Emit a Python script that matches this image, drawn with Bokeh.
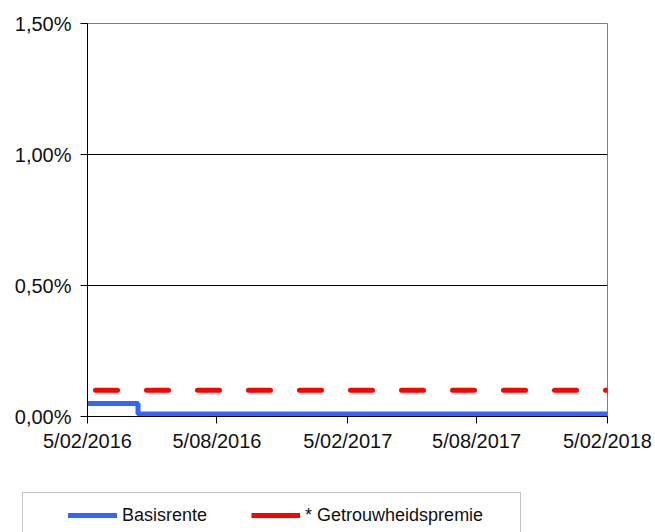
from datetime import datetime
from bokeh.plotting import figure
from bokeh.layouts import column
from bokeh.models import (Range1d, FixedTicker, CustomJSTickFormatter, Legend,
                          LegendItem, BoxAnnotation)
from bokeh.embed import file_html
from bokeh.resources import INLINE

# ---- data ----
basis_dates = ["2016-02-05", "2016-04-16", "2018-02-05"]
basis_values = [0.05, 0.01, 0.01]
premie_dates = ["2016-02-05", "2018-02-05"]
premie_values = [0.10, 0.10]
x_tick_dates = ["2016-02-05", "2016-08-05", "2017-02-05", "2017-08-05", "2018-02-05"]
y_ticks = [0.0, 0.5, 1.0, 1.5]
labels = ["Basisrente", "* Getrouwheidspremie"]

EPOCH = datetime(1970, 1, 1)
def to_dt(s):
    return datetime.strptime(s, "%Y-%m-%d")
def to_ms(s):
    return int((to_dt(s) - EPOCH).total_seconds() * 1000)

FONT = "Liberation Sans"
BLUE = "#3366FF"
RED = "#FF0000"

# ---------------- chart ----------------
p = figure(width=655, height=470, output_backend="svg", toolbar_location=None,
           x_axis_type="datetime",
           x_range=Range1d(to_dt(x_tick_dates[0]), to_dt(x_tick_dates[-1])),
           y_range=Range1d(0, 1.5),
           min_border_left=87, min_border_right=48, min_border_top=23,
           min_border_bottom=54)
p.outline_line_color = "#808080"
p.outline_line_width = 1
p.background_fill_color = "white"
p.border_fill_color = "white"

p.xaxis.ticker = FixedTicker(ticks=[to_ms(d) for d in x_tick_dates])
p.xaxis.formatter = CustomJSTickFormatter(code="""
const d = new Date(tick);
return d.getUTCDate() + '/' + String(d.getUTCMonth() + 1).padStart(2, '0') + '/' + d.getUTCFullYear();
""")
p.yaxis.ticker = FixedTicker(ticks=y_ticks)
p.yaxis.formatter = CustomJSTickFormatter(code="""
return tick.toFixed(2).replace('.', ',') + '%';
""")
for ax in (p.xaxis, p.yaxis):
    ax.axis_line_color = "black"
    ax.axis_line_width = 1
    ax.major_tick_line_color = "black"
    ax.major_tick_out = 7
    ax.major_tick_in = 0
    ax.minor_tick_line_color = None
    ax.major_label_text_font = FONT
    ax.major_label_text_font_size = "20px"
    ax.major_label_text_color = "#111111"
p.xaxis.major_label_standoff = 6
p.yaxis.major_label_standoff = 9

p.xgrid.grid_line_color = None
p.ygrid.ticker = FixedTicker(ticks=y_ticks)
p.ygrid.grid_line_color = "black"
p.ygrid.grid_line_width = 1

p.line([to_dt(d) for d in premie_dates], premie_values,
       line_color=RED, line_width=5, line_dash="22 29",
       line_dash_offset=43, line_cap="round")
r_basis = p.step([to_dt(d) for d in basis_dates], basis_values, mode="after",
                 line_color=BLUE, line_width=5)
r_basis.glyph.line_cap = "round"

# ---------------- legend strip ----------------
lg = figure(width=655, height=62, output_backend="svg", toolbar_location=None,
            x_range=Range1d(0, 655), y_range=Range1d(0, 62),
            x_axis_location=None, y_axis_location=None,
            min_border_left=0, min_border_right=0, min_border_top=0,
            min_border_bottom=0)
for fig in (p, lg):
    try:
        fig.frame_align = False
    except Exception:
        pass
lg.outline_line_color = None
lg.xgrid.visible = False
lg.ygrid.visible = False
lg.background_fill_color = "white"
lg.border_fill_color = "white"

nan = float("nan")
leg_basis = lg.line(x=[nan], y=[nan], line_color=BLUE, line_width=5, line_cap="round")
leg_prem = lg.line(x=[nan], y=[nan], line_color=RED, line_width=5, line_cap="butt")

lg.add_layout(BoxAnnotation(left=22, right=520, top=40, bottom=-10,
                            fill_alpha=0, line_color="#404040", line_width=1))

legend = Legend(items=[LegendItem(label=labels[0], renderers=[leg_basis]),
                       LegendItem(label=labels[1], renderers=[leg_prem])],
                location=(68, 6), orientation="horizontal",
                glyph_width=49, glyph_height=22, label_standoff=5, spacing=44,
                margin=0, padding=0, border_line_alpha=0,
                background_fill_alpha=0,
                label_text_font=FONT, label_text_font_size="18px",
                label_text_color="#111111")
lg.add_layout(legend)

layout = column(p, lg, spacing=0)
open("out.html", "w").write(file_html(layout, INLINE))
